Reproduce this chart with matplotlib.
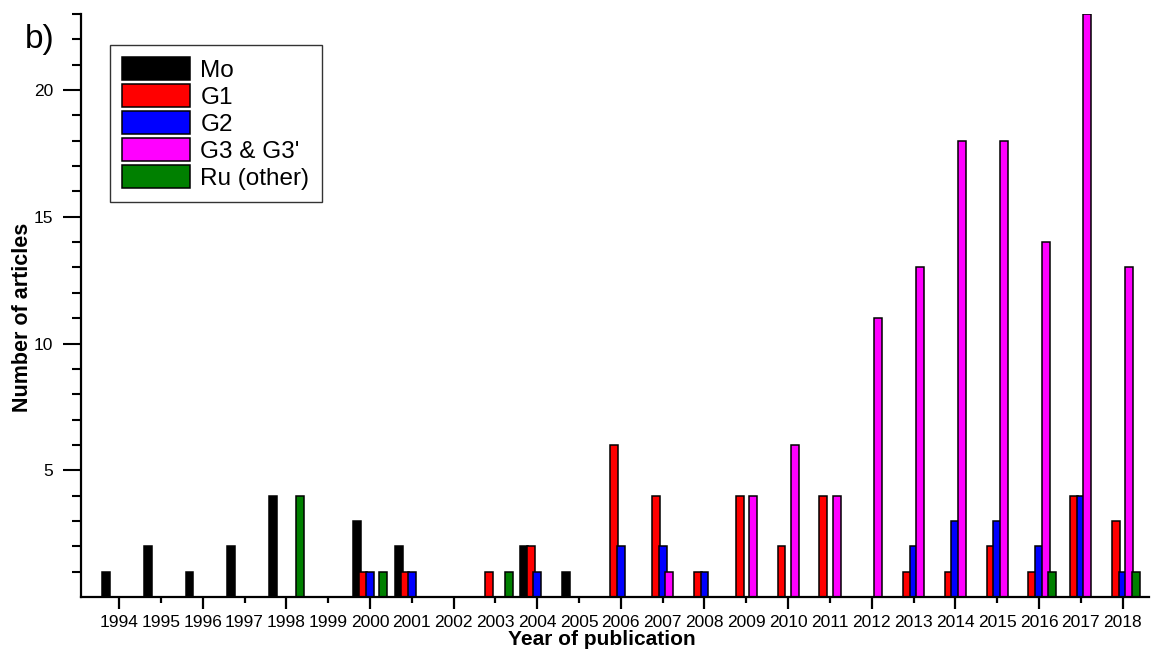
import matplotlib
matplotlib.use("Agg")
import matplotlib.pyplot as plt
import numpy as np

plt.rcParams['font.family'] = ['Liberation Sans', 'DejaVu Sans']

years = list(range(1994, 2019))
series_names = ["Mo", "G1", "G2", "G3 & G3'", "Ru (other)"]
series_colors = ["#000000", "#ff0000", "#0000ff", "#ff00ff", "#008000"]

mo = [1, 2, 1, 2, 4, 0, 3, 2, 0, 0, 2, 1, 0, 0, 0, 0, 0, 0, 0, 0, 0, 0, 0, 0, 0]
g1 = [0, 0, 0, 0, 0, 0, 1, 1, 0, 1, 2, 0, 6, 4, 1, 4, 2, 4, 0, 1, 1, 2, 1, 4, 3]
g2 = [0, 0, 0, 0, 0, 0, 1, 1, 0, 0, 1, 0, 2, 2, 1, 0, 0, 0, 0, 2, 3, 3, 2, 4, 1]
g3 = [0, 0, 0, 0, 0, 0, 0, 0, 0, 0, 0, 0, 0, 1, 0, 4, 6, 4, 11, 13, 18, 18, 14, 23, 13]
ru = [0, 0, 0, 0, 4, 0, 1, 0, 0, 1, 0, 0, 0, 0, 0, 0, 0, 0, 0, 0, 0, 0, 1, 0, 1]

series_values = [mo, g1, g2, g3, ru]

fig = plt.figure(figsize=(11.52, 6.51), dpi=100)
ax = fig.add_axes([81 / 1152, 1 - 597 / 651, (1149 - 81) / 1152, (597 - 14) / 651])

x = np.array(years, dtype=float)
step = 0.158
width = 0.19
for i, (name, vals, col) in enumerate(zip(series_names, series_values, series_colors)):
    ax.bar(x + (i - 2) * step, vals, width=width, color=col, edgecolor="black",
           linewidth=1.1, label=name, zorder=2 + i * 0.01)

ax.set_xlim(1993.09, 2018.63)
ax.set_ylim(0, 23)

for side in ("top", "right"):
    ax.spines[side].set_visible(False)
for side in ("left", "bottom"):
    ax.spines[side].set_linewidth(1.6)

# x ticks: long marks on even years, short marks on odd years, all labelled
even = [y for y in years if y % 2 == 0]
odd = [y for y in years if y % 2 == 1]
ax.set_xticks(even, [str(y) for y in even])
ax.set_xticks(odd, [str(y) for y in odd], minor=True)
ax.tick_params(axis="x", which="major", direction="out", length=8.6, width=1.6,
               pad=4.2, labelsize=12.5)
ax.tick_params(axis="x", which="minor", direction="out", length=4.3, width=1.6,
               pad=8.5, labelsize=12.5)

ax.set_yticks([5, 10, 15, 20])
ax.set_yticks([v for v in range(1, 24) if v % 5 != 0], minor=True)
ax.tick_params(axis="y", which="major", direction="out", length=13, width=1.5,
               pad=7, labelsize=12.5)
ax.tick_params(axis="y", which="minor", direction="out", length=6.5, width=1.5)

ax.set_ylabel("Number of articles", fontsize=15.5, fontweight="bold")
ax.yaxis.set_label_coords(-0.045, 0.479)

ax.set_xlabel("Year of publication", fontsize=15, fontweight="bold", va="baseline")
ax.xaxis.set_label_coords(0.488, -0.083)

leg = ax.legend(loc="upper left", bbox_to_anchor=(0.0271, 0.9468), borderaxespad=0,
                fontsize=17.5, handlelength=2.8, handleheight=1.05, labelspacing=0.1,
                handletextpad=0.42, borderpad=0.5, fancybox=False, framealpha=1,
                edgecolor="#333333")
leg.get_frame().set_linewidth(1.0)

fig.text(25 / 1152, 1 - 48 / 651, "b)", fontsize=24, va="baseline", ha="left")

fig.savefig("out.png", dpi=100)
